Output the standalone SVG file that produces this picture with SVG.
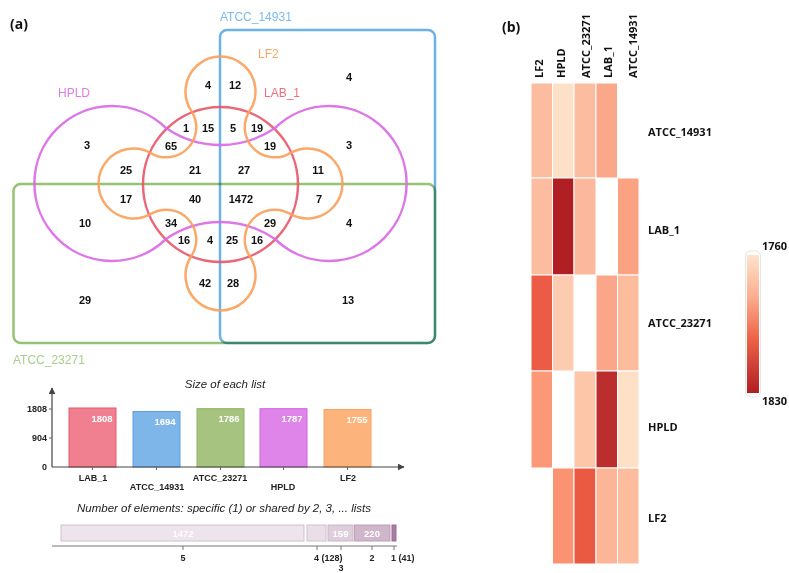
<svg xmlns="http://www.w3.org/2000/svg" width="789" height="573" viewBox="0 0 789 573">
<defs>
<style>
.n{font-family:"Liberation Sans",Arial,sans-serif;font-weight:bold;font-size:11px;fill:#111;text-anchor:middle}
.set{font-family:"Liberation Sans",Arial,sans-serif;font-size:12px}
.ax{font-family:"Liberation Sans",Arial,sans-serif;font-weight:bold;font-size:9px;fill:#222}
.bv{font-family:"Liberation Sans",Arial,sans-serif;font-weight:bold;font-size:9.5px;fill:#fff;text-anchor:middle}
.ttl{font-family:"Liberation Sans",Arial,sans-serif;font-style:italic;font-size:11.5px;fill:#222;text-anchor:middle}
.hm{font-family:"Open Sans","Liberation Sans",sans-serif;font-weight:bold;font-size:11px;fill:#111}
.pl{font-family:"Open Sans","Liberation Sans",sans-serif;font-weight:bold;font-size:14px;fill:#111}
.v{fill:none;stroke-width:2.5}
.c rect{stroke:#fff;stroke-width:1}
</style>
<marker id="arr" viewBox="0 0 10 10" refX="9" refY="5" markerWidth="7" markerHeight="7" orient="auto" markerUnits="userSpaceOnUse">
<path d="M0,0 L10,5 L0,10 z" fill="#444"/>
</marker>
<linearGradient id="lg" x1="0" y1="0" x2="0" y2="1">
<stop offset="0" stop-color="#fde3cc"/>
<stop offset="0.3" stop-color="#fcae90"/>
<stop offset="0.6" stop-color="#ee6448"/>
<stop offset="1" stop-color="#b01e22"/>
</linearGradient>
</defs>
<rect width="789" height="573" fill="#fff"/>

<text class="pl" x="10" y="29">(a)</text>
<text class="pl" x="502" y="32">(b)</text>

<!-- Venn -->
<g id="set-atcc14931">
<rect class="v" x="220" y="30" width="215" height="313" rx="7" stroke="#6cb2ea"/>
<text class="set" x="220" y="21" fill="#7db9ea">ATCC_14931</text>
</g>
<g id="set-atcc23271">
<rect class="v" x="13.5" y="184" width="421.5" height="159" rx="7" stroke="#95c275" style="mix-blend-mode:multiply"/>
<text class="set" x="13" y="364" fill="#a9cd8c">ATCC_23271</text>
</g>
<g id="set-lab1">
<circle class="v" cx="220.5" cy="184.5" r="77.5" stroke="#e8566a" stroke-opacity="0.9"/>
<text class="set" x="264" y="97" fill="#ec6f80">LAB_1</text>
</g>
<g id="set-hpld">
<path class="v" stroke="#d968e6" stroke-opacity="0.9" d="M166,128 A77.5,77.5 0 1 0 166,239 A96,96 0 0 1 275,239 A77.5,77.5 0 1 0 275,128 A96,96 0 0 1 166,128 Z"/>
<text class="set" x="58" y="97" fill="#d97fe3">HPLD</text>
</g>
<g id="set-lf2">
<path class="v" stroke="#f9a05a" stroke-opacity="0.9" d="M191.4,111 A35,35 0 1 1 249.6,111 A30,30 0 0 0 289.8,153.3 A35,35 0 1 1 289.8,213.7 A30,30 0 0 0 249.6,256 A35,35 0 1 1 191.4,256 A30,30 0 0 0 151.2,213.7 A35,35 0 1 1 151.2,153.3 A30,30 0 0 0 191.4,111 Z"/>
<text class="set" x="258" y="58" fill="#f7a666">LF2</text>
</g>
<g id="venn-counts">
<text class="n" x="208" y="89">4</text>
<text class="n" x="235" y="89">12</text>
<text class="n" x="349" y="81">4</text>
<text class="n" x="186" y="132">1</text>
<text class="n" x="208" y="132">15</text>
<text class="n" x="233" y="132">5</text>
<text class="n" x="257" y="132">19</text>
<text class="n" x="87" y="149">3</text>
<text class="n" x="171" y="150">65</text>
<text class="n" x="270" y="150">19</text>
<text class="n" x="349" y="149">3</text>
<text class="n" x="126" y="174">25</text>
<text class="n" x="195" y="174">21</text>
<text class="n" x="244" y="174">27</text>
<text class="n" x="318" y="174">11</text>
<text class="n" x="126" y="203">17</text>
<text class="n" x="195" y="203">40</text>
<text class="n" x="241" y="203">1472</text>
<text class="n" x="319" y="203">7</text>
<text class="n" x="85" y="227">10</text>
<text class="n" x="171" y="227">34</text>
<text class="n" x="270" y="227">29</text>
<text class="n" x="349" y="227">4</text>
<text class="n" x="184" y="244">16</text>
<text class="n" x="210" y="244">4</text>
<text class="n" x="232" y="244">25</text>
<text class="n" x="257" y="244">16</text>
<text class="n" x="205" y="287">42</text>
<text class="n" x="233" y="287">28</text>
<text class="n" x="85" y="304">29</text>
<text class="n" x="348" y="304">13</text>
</g>

<!-- Bar chart -->
<g id="size-chart">
<text class="ttl" x="225" y="388">Size of each list</text>
<g id="bar-lab1"><rect x="69" y="408" width="47" height="59" fill="#f0808f" stroke="#e35b6d"/><text class="bv" x="102" y="422">1808</text></g>
<g id="bar-atcc14931"><rect x="133" y="411.5" width="47" height="55.5" fill="#7fb6ea" stroke="#5a9fe2"/><text class="bv" x="165" y="425">1694</text></g>
<g id="bar-atcc23271"><rect x="197" y="408.7" width="47" height="58.3" fill="#a6c47f" stroke="#8db262"/><text class="bv" x="229" y="422">1786</text></g>
<g id="bar-hpld"><rect x="260" y="408.7" width="47" height="58.3" fill="#df85ea" stroke="#d163df"/><text class="bv" x="292" y="422">1787</text></g>
<g id="bar-lf2"><rect x="324" y="409.5" width="47" height="57.5" fill="#fdb47c" stroke="#f9a262"/><text class="bv" x="357" y="423">1755</text></g>
</g>
<g id="connectors">
<line x1="52" y1="467" x2="52" y2="388" stroke="#444" stroke-width="1.2" marker-end="url(#arr)"/>
<line x1="52" y1="467" x2="404" y2="467" stroke="#444" stroke-width="1.2" marker-end="url(#arr)"/>
<path d="M49,409 H52 M49,438 H52 M92.5,467 V470 M156.5,467 V470 M220.5,467 V470 M283.5,467 V470 M347.5,467 V470" stroke="#666" stroke-width="1"/>
<line x1="52" y1="546" x2="397" y2="546" stroke="#777" stroke-width="1.2"/>
<path d="M183,546 V550 M317,546 V550 M341,546 V550 M372,546 V550 M394,546 V550" stroke="#777" stroke-width="1"/>
</g>
<g id="size-axis-labels">
<text class="ax" x="47" y="412" text-anchor="end">1808</text>
<text class="ax" x="47" y="441" text-anchor="end">904</text>
<text class="ax" x="47" y="470" text-anchor="end">0</text>
<text class="ax" x="93" y="481" text-anchor="middle">LAB_1</text>
<text class="ax" x="157" y="490" text-anchor="middle">ATCC_14931</text>
<text class="ax" x="220" y="481" text-anchor="middle">ATCC_23271</text>
<text class="ax" x="283" y="490" text-anchor="middle">HPLD</text>
<text class="ax" x="348" y="481" text-anchor="middle">LF2</text>
</g>

<g id="shared-chart">
<text class="ttl" x="224" y="512">Number of elements: specific (1) or shared by 2, 3, ... lists</text>
<rect x="61" y="525" width="243" height="16" fill="#eee4ed" stroke="#cfc0cd"/>
<rect x="307" y="525" width="19" height="16" fill="#eadfe9" stroke="#cfc0cd"/>
<rect x="328" y="525" width="25" height="16" fill="#dfcddd" stroke="#c9b5c6"/>
<rect x="354.5" y="525" width="35.5" height="16" fill="#cfb6cb" stroke="#bba0b7"/>
<rect x="392" y="525" width="4" height="16" fill="#a77da1" stroke="#9a6f94"/>
<text class="bv" x="183" y="537" fill-opacity="0.9">1472</text>
<text class="bv" x="340.5" y="537">159</text>
<text class="bv" x="372" y="537">220</text>
<text class="ax" x="183" y="561" text-anchor="middle">5</text>
<text class="ax" x="314" y="561">4 (128)</text>
<text class="ax" x="341" y="571" text-anchor="middle">3</text>
<text class="ax" x="372" y="561" text-anchor="middle">2</text>
<text class="ax" x="391" y="561">1 (41)</text>
</g>

<!-- Heatmap -->
<g id="heatmap" class="c">
<rect x="531" y="83" width="21.5" height="95" fill="#fcbca0"/>
<rect x="552.5" y="83" width="21.5" height="95" fill="#fde0c8"/>
<rect x="574" y="83" width="22" height="95" fill="#fcbca0"/>
<rect x="596" y="83" width="21.5" height="95" fill="#fba88a"/>

<rect x="531" y="178" width="21.5" height="97" fill="#fcbca0"/>
<rect x="552.5" y="178" width="21.5" height="97" fill="#b01f24"/>
<rect x="574" y="178" width="22" height="97" fill="#fcb89c"/>
<rect x="617.5" y="178" width="21.5" height="97" fill="#fba283"/>

<rect x="531" y="275" width="21.5" height="96" fill="#eb5b45"/>
<rect x="552.5" y="275" width="21.5" height="96" fill="#fdcbb0"/>
<rect x="596" y="275" width="21.5" height="96" fill="#fba688"/>
<rect x="617.5" y="275" width="21.5" height="96" fill="#fcbc9e"/>

<rect x="531" y="371" width="21.5" height="97" fill="#fb9878"/>
<rect x="574" y="371" width="22" height="97" fill="#fdc6a9"/>
<rect x="596" y="371" width="21.5" height="97" fill="#bc2d2e"/>
<rect x="617.5" y="371" width="21.5" height="97" fill="#fde0c6"/>

<rect x="552.5" y="468" width="21.5" height="96" fill="#fb9272"/>
<rect x="574" y="468" width="22" height="96" fill="#ea5a42"/>
<rect x="596" y="468" width="21.5" height="96" fill="#fcb597"/>
<rect x="617.5" y="468" width="21.5" height="96" fill="#fcbc9e"/>
</g>
<g id="heatmap-col-labels">
<text class="hm" transform="translate(543,78) rotate(-90)">LF2</text>
<text class="hm" transform="translate(564.5,78) rotate(-90)">HPLD</text>
<text class="hm" transform="translate(590,78) rotate(-90)">ATCC_23271</text>
<text class="hm" transform="translate(611.5,78) rotate(-90)">LAB_1</text>
<text class="hm" transform="translate(636.5,78) rotate(-90)">ATCC_14931</text>
</g>
<g id="heatmap-row-labels">
<text class="hm" x="648" y="136">ATCC_14931</text>
<text class="hm" x="648" y="234">LAB_1</text>
<text class="hm" x="648" y="327">ATCC_23271</text>
<text class="hm" x="648" y="431">HPLD</text>
<text class="hm" x="648" y="522">LF2</text>
</g>
<g id="legend">
<rect x="745.5" y="251" width="15" height="146" rx="5" fill="#fff" stroke="#e4e4e4" stroke-width="1"/>
<rect x="747" y="255" width="12" height="138" fill="url(#lg)"/>
<text class="hm" x="762" y="250">1760</text>
<text class="hm" x="762" y="405">1830</text>
</g>
</svg>
